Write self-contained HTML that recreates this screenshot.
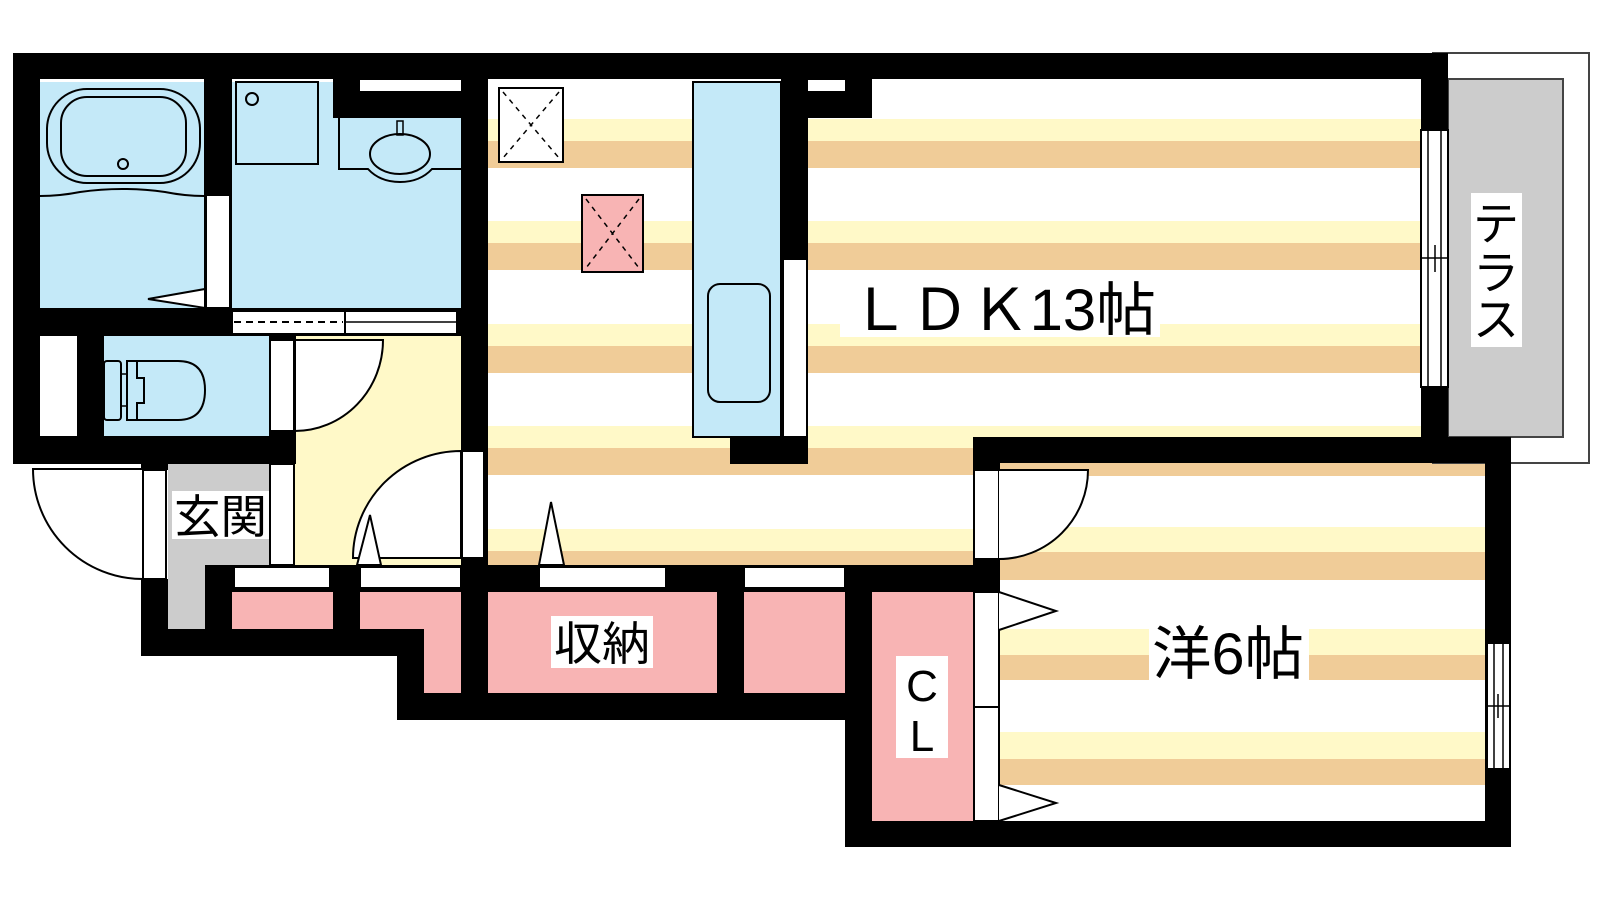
<!DOCTYPE html>
<html><head><meta charset="utf-8"><style>
html,body{margin:0;padding:0;background:#fff;}
svg{display:block;}
text{font-family:"Liberation Sans","Noto Sans CJK JP",sans-serif;fill:#000;}
</style></head><body>
<svg width="1600" height="900" viewBox="0 0 1600 900" xmlns="http://www.w3.org/2000/svg">
<rect width="1600" height="900" fill="#fff"/>

<!-- LDK stripes -->
<g>
<rect x="488" y="119" width="933" height="22" fill="#fff9c8"/><rect x="488" y="141" width="933" height="27" fill="#f0cc98"/>
<rect x="488" y="221" width="933" height="22" fill="#fff9c8"/><rect x="488" y="243" width="933" height="27" fill="#f0cc98"/>
<rect x="488" y="324" width="933" height="22" fill="#fff9c8"/><rect x="488" y="346" width="933" height="27" fill="#f0cc98"/>
<rect x="488" y="426" width="933" height="22" fill="#fff9c8"/><rect x="488" y="448" width="485" height="27" fill="#f0cc98"/>
<rect x="488" y="529" width="485" height="22" fill="#fff9c8"/><rect x="488" y="551" width="485" height="14" fill="#f0cc98"/>
</g>
<!-- Bedroom floor -->
<rect x="973" y="437" width="538" height="410" fill="#fff"/>
<rect x="999" y="463" width="486" height="13" fill="#f0cc98"/>
<rect x="999" y="527" width="486" height="25" fill="#fff9c8"/><rect x="999" y="552" width="486" height="28" fill="#f0cc98"/>
<rect x="999" y="629" width="486" height="26" fill="#fff9c8"/><rect x="999" y="655" width="486" height="25" fill="#f0cc98"/>
<rect x="999" y="732" width="486" height="27" fill="#fff9c8"/><rect x="999" y="759" width="486" height="26" fill="#f0cc98"/>

<!-- Terrace -->
<rect x="1433" y="53" width="156" height="410" fill="#fff" stroke="#444" stroke-width="2"/>
<rect x="1448" y="79" width="115" height="358" fill="#cccccc" stroke="#444" stroke-width="2"/>

<!-- Bath -->
<rect x="40" y="82" width="164" height="226" fill="#c4e9f8"/>
<rect x="47" y="89" width="153" height="94" rx="40" fill="none" stroke="#000" stroke-width="2"/>
<rect x="61" y="97" width="125" height="79" rx="26" fill="none" stroke="#000" stroke-width="2"/>
<circle cx="123" cy="164" r="5" fill="none" stroke="#000" stroke-width="2"/>
<path d="M40 196 Q60 196 80 192 Q122 186 165 192 Q185 196 204 196" fill="none" stroke="#000" stroke-width="2"/>
<path d="M148 299 L205 289 L205 308 Z" fill="#fff" stroke="#000" stroke-width="2"/>

<!-- Washroom -->
<rect x="232" y="82" width="229" height="226" fill="#c4e9f8"/>
<rect x="236" y="82" width="82" height="82" fill="none" stroke="#000" stroke-width="2"/>
<circle cx="252" cy="99" r="6" fill="none" stroke="#000" stroke-width="2"/>
<path d="M339 118 L339 169 L368 169 Q380 182 400 182 Q420 182 432 169 L461 169" fill="none" stroke="#000" stroke-width="2"/>
<ellipse cx="400" cy="154" rx="30" ry="20" fill="none" stroke="#000" stroke-width="2"/>
<rect x="397" y="121" width="6" height="14" fill="none" stroke="#000" stroke-width="1.5"/>

<!-- Closet & Toilet -->
<rect x="40" y="336" width="37" height="100" fill="#fff"/>
<rect x="104" y="336" width="165" height="100" fill="#c4e9f8"/>
<rect x="104" y="361" width="17" height="59" rx="3" fill="none" stroke="#000" stroke-width="2"/>
<path d="M127 361 L178 361 Q205 361 205 390 Q205 420 178 420 L127 420 Z" fill="none" stroke="#000" stroke-width="2"/>
<path d="M137 361 L137 378 L144 378 L144 403 L137 403 L137 420" fill="none" stroke="#000" stroke-width="2"/>
<rect x="121" y="374" width="6" height="32" fill="none" stroke="#000" stroke-width="1.5"/>

<!-- Hall -->
<rect x="295" y="336" width="166" height="229" fill="#fff9c8"/>
<path d="M295 340 L383 340 A88 91 0 0 1 295 431 Z" fill="#fff" stroke="#000" stroke-width="2"/>
<path d="M461 451 A108 107 0 0 0 353 558 L461 558 Z" fill="#fff" stroke="#000" stroke-width="2"/>

<!-- Genkan -->
<rect x="168" y="464" width="101" height="101" fill="#cccccc"/>
<rect x="168" y="565" width="37" height="64" fill="#cccccc"/>
<path d="M143 469 L33 469 A110 110 0 0 0 143 579" fill="#fff" stroke="#000" stroke-width="2"/>

<!-- Storage pinks -->
<rect x="232" y="592" width="101" height="37" fill="#f8b4b4"/>
<path d="M360 592 L461 592 L461 693 L424 693 L424 629 L360 629 Z" fill="#f8b4b4"/>
<rect x="488" y="592" width="229" height="101" fill="#f8b4b4"/>
<rect x="744" y="592" width="101" height="101" fill="#f8b4b4"/>
<rect x="872" y="592" width="101" height="229" fill="#f8b4b4"/>

<!-- Kitchen -->
<rect x="693" y="82" width="88" height="355" fill="#c4e9f8" stroke="#000" stroke-width="2"/>
<rect x="708" y="284" width="62" height="118" rx="12" fill="none" stroke="#000" stroke-width="2"/>
<rect x="499" y="88" width="64" height="74" fill="#fff" stroke="#000" stroke-width="2"/>
<path d="M503 92 L559 158 M559 92 L503 158" stroke="#000" stroke-width="1.5" stroke-dasharray="5,5"/>
<rect x="582" y="195" width="61" height="77" fill="#f8b4b4" stroke="#000" stroke-width="2"/>
<path d="M586 199 L639 268 M639 199 L586 268" stroke="#000" stroke-width="1.5" stroke-dasharray="5,5"/>

<!-- Walls -->
<g fill="#000">
<rect x="13" y="53" width="1435" height="26"/>
<rect x="13" y="53" width="27" height="411"/>
<rect x="204" y="79" width="28" height="229"/>
<rect x="333" y="53" width="128" height="65"/>
<rect x="13" y="308" width="448" height="28"/>
<rect x="77" y="336" width="27" height="100"/>
<rect x="269" y="336" width="27" height="100"/>
<rect x="13" y="436" width="283" height="28"/>
<rect x="461" y="53" width="27" height="667"/>
<rect x="781" y="53" width="27" height="206"/>
<rect x="730" y="437" width="78" height="27"/>
<rect x="808" y="53" width="64" height="65"/>
<rect x="1421" y="53" width="27" height="384"/>
<rect x="973" y="437" width="538" height="26"/>
<rect x="973" y="437" width="27" height="155"/>
<rect x="1485" y="437" width="26" height="410"/>
<rect x="845" y="821" width="666" height="26"/>
<rect x="845" y="565" width="27" height="282"/>
<rect x="205" y="565" width="768" height="27"/>
<rect x="205" y="565" width="27" height="64"/>
<rect x="333" y="565" width="27" height="64"/>
<rect x="717" y="565" width="27" height="155"/>
<rect x="141" y="579" width="27" height="77"/>
<rect x="141" y="629" width="283" height="27"/>
<rect x="397" y="629" width="27" height="91"/>
<rect x="397" y="693" width="475" height="27"/>
<rect x="141" y="464" width="27" height="6"/>
</g>

<!-- White wall inserts / doors / windows -->
<g fill="#fff" stroke="#000" stroke-width="2">
<rect x="360" y="80" width="101" height="11" stroke="none"/>
<rect x="808" y="80" width="37" height="11" stroke="none"/>
<rect x="206" y="195" width="24" height="113"/>
<rect x="232" y="311" width="113" height="23"/>
<rect x="345" y="311" width="112" height="23"/>
<rect x="270" y="340" width="24" height="91"/>
<rect x="143" y="470" width="23" height="109"/>
<rect x="270" y="464" width="24" height="101"/>
<rect x="462" y="451" width="22" height="107"/>
<rect x="783" y="259" width="24" height="178"/>
<rect x="234" y="567" width="96" height="21"/>
<rect x="360" y="567" width="101" height="21"/>
<rect x="539" y="567" width="127" height="21"/>
<rect x="744" y="567" width="101" height="21"/>
<rect x="974" y="470" width="25" height="89"/>
<rect x="974" y="592" width="25" height="115"/>
<rect x="974" y="707" width="25" height="114"/>
<rect x="1421" y="130" width="27" height="257"/>
<rect x="1487" y="643" width="23" height="126"/>
</g>
<path d="M234 322 L343 322" stroke="#000" stroke-width="2" stroke-dasharray="7,5"/>
<path d="M232 311 L232 334" stroke="#000" stroke-width="1"/>
<line x1="345" y1="322" x2="457" y2="322" stroke="#000" stroke-width="1.5"/>
<line x1="1428" y1="130" x2="1428" y2="387" stroke="#000" stroke-width="1.5"/>
<line x1="1441" y1="130" x2="1441" y2="387" stroke="#000" stroke-width="1.5"/>
<line x1="1421" y1="258" x2="1448" y2="258" stroke="#000" stroke-width="1.5"/>
<line x1="1435" y1="245" x2="1435" y2="272" stroke="#000" stroke-width="1.5"/>
<line x1="1494" y1="643" x2="1494" y2="769" stroke="#000" stroke-width="1.5"/>
<line x1="1503" y1="643" x2="1503" y2="769" stroke="#000" stroke-width="1.5"/>
<line x1="1487" y1="706" x2="1510" y2="706" stroke="#000" stroke-width="1.5"/>
<line x1="1498" y1="694" x2="1498" y2="718" stroke="#000" stroke-width="1.5"/>

<!-- door leaves / triangles -->
<path d="M999 470 L1088 470 A89 89 0 0 1 999 559" fill="#fff" stroke="#000" stroke-width="2"/>
<path d="M999 592 L1056 611 L999 630" fill="#fff" stroke="#000" stroke-width="2"/>
<path d="M999 785 L1056 803 L999 821" fill="#fff" stroke="#000" stroke-width="2"/>
<path d="M357 565 L370 515 L381 565 Z" fill="#fff" stroke="#000" stroke-width="2"/>
<path d="M539 565 L551 502 L564 565 Z" fill="#fff" stroke="#000" stroke-width="2"/>

<!-- Labels -->
<rect x="840" y="273" width="320" height="64" fill="#fff"/>
<text x="850" y="330" font-size="58" textLength="306" lengthAdjust="spacingAndGlyphs">ＬＤＫ13帖</text>
<rect x="1471" y="193" width="51" height="154" fill="#fff"/>
<text x="1496" y="240" font-size="46" text-anchor="middle">テ</text>
<text x="1496" y="289" font-size="46" text-anchor="middle">ラ</text>
<text x="1496" y="336" font-size="46" text-anchor="middle">ス</text>
<rect x="1149" y="629" width="160" height="51" fill="#fff"/>
<text x="1152" y="674" font-size="58" textLength="152" lengthAdjust="spacingAndGlyphs">洋6帖</text>
<rect x="896" y="656" width="52" height="102" fill="#fff"/>
<text x="922" y="701" font-size="44" text-anchor="middle">C</text>
<text x="922" y="751" font-size="44" text-anchor="middle">L</text>
<rect x="551" y="616" width="102" height="52" fill="#fff"/>
<text x="554" y="660" font-size="46" textLength="96" lengthAdjust="spacingAndGlyphs">収納</text>
<rect x="172" y="491" width="97" height="48" fill="#fff"/>
<text x="174" y="533" font-size="46" textLength="93" lengthAdjust="spacingAndGlyphs">玄関</text>
</svg>
</body></html>
